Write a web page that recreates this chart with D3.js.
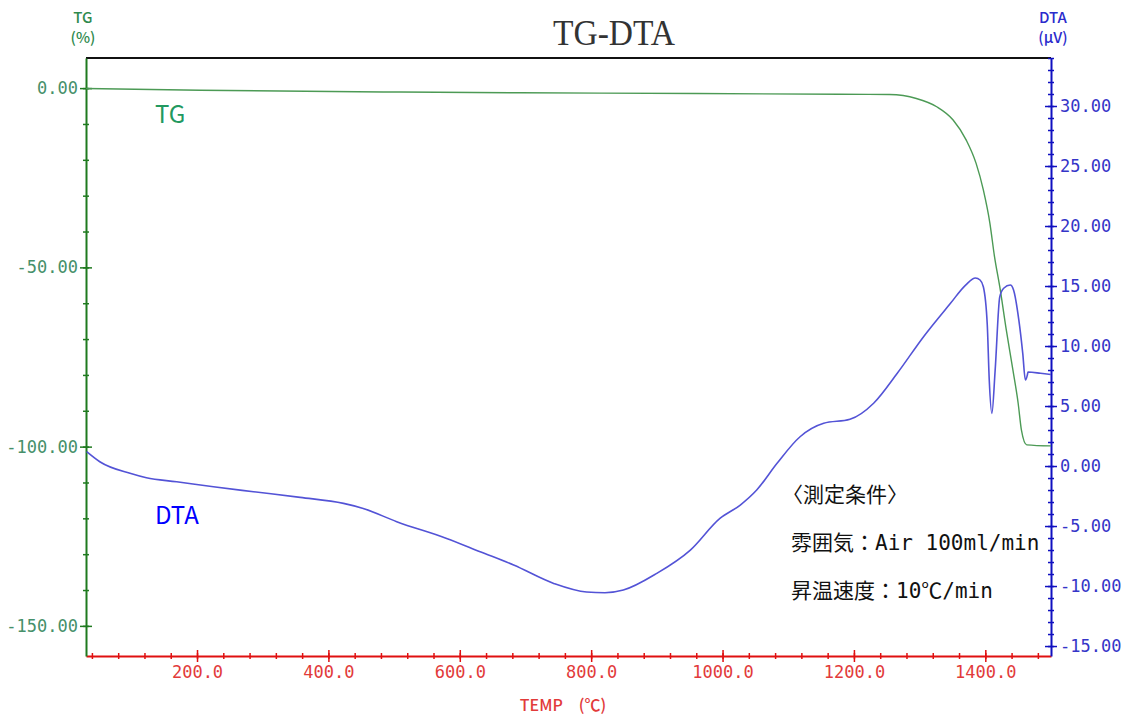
<!DOCTYPE html>
<html>
<head>
<meta charset="utf-8">
<script src="https://cdn.jsdelivr.net/npm/d3@7"></script>
<style>
  body { margin: 0; background: #fff; }
</style>
</head>
<body>
<svg id="chart" width="1126" height="715"></svg>
<script>
// TG-DTA curves, values.

const tgTemp  = [31, 205, 509, 813, 1178, 1254, 1295, 1326, 1351, 1371, 1386, 1397, 1407, 1414, 1422, 1432, 1442, 1450, 1455, 1463, 1500];
const tgValue = [-0.1, -0.6, -1.1, -1.4, -1.7, -1.8, -2.9, -5.2, -8.9, -14.5, -21.0, -28.4, -37.7, -47.0, -55.4, -67.5, -78.6, -87.9, -95.4, -99.5, -99.8];

const dtaTemp  = [32, 52, 98, 123, 169, 225, 286, 357, 423, 453, 504, 580, 631, 682, 743, 793, 821, 849, 900, 951, 996, 1027, 1052, 1083, 1118, 1154, 1194, 1230, 1266, 1306, 1347, 1370, 1385, 1392, 1397, 1403, 1406, 1410, 1415, 1422, 1428, 1438, 1443, 1451, 1457, 1461, 1464, 1465, 1484, 1500];
const dtaValue = [1.2, 0.36, -0.61, -0.98, -1.31, -1.73, -2.14, -2.61, -3.11, -3.53, -4.64, -6.03, -7.14, -8.25, -9.78, -10.5, -10.56, -10.33, -8.94, -7.0, -4.36, -3.25, -2.0, 0.23, 2.44, 3.56, 3.89, 5.23, 7.73, 10.78, 13.56, 15.08, 15.67, 15.5, 14.94, 11.75, 7.17, 4.39, 8.0, 14.1, 14.81, 15.08, 14.67, 12.17, 9.39, 7.17, 7.58, 7.83, 7.73, 7.62];

const xTicks   = [200, 400, 600, 800, 1000, 1200, 1400];
const tgTicks  = [0, -50, -100, -150];
const dtaTicks = [30, 25, 20, 15, 10, 5, 0, -5, -10, -15];

const conditions = ["〈測定条件〉", "雰囲気：Air 100ml/min", "昇温速度：10℃/min"];

const plotLeft = 86, plotRight = 1051, plotTop = 58, plotBottom = 656;
const svg = d3.select("#chart");

const x = d3.scaleLinear().domain([31, 1500]).range([plotLeft, plotRight]);
const yTG = d3.scaleLinear().domain([-158.4, 8.4]).range([plotBottom, plotTop]);
const yDTA = d3.scaleLinear().domain([-15.83, 34]).range([plotBottom, plotTop]);

const mono = "'DejaVu Sans Mono', 'Liberation Mono', monospace";
const jp = "'Noto Sans CJK JP', sans-serif";

// top border
svg.append("line")
  .attr("x1", plotLeft).attr("x2", plotRight).attr("y1", plotTop).attr("y2", plotTop)
  .attr("stroke", "#111").attr("stroke-width", 2);

// makes tick marks cross the axis line
function crossTicks(g, size, vertical) {
  g.selectAll(".tick line")
    .attr(vertical ? "x1" : "y1", -size)
    .attr(vertical ? "x2" : "y2", size);
}

// minor ticks
const minorX = d3.range(40, 1500, 40);
const gxMinor = svg.append("g").attr("transform", `translate(0,${plotBottom})`)
  .call(d3.axisBottom(x).tickValues(minorX).tickFormat(() => "").tickSizeOuter(0));
gxMinor.select(".domain").remove();
crossTicks(gxMinor, 3, false);
gxMinor.selectAll("line").attr("stroke", "#e01010").attr("stroke-width", 1.5);

const gyMinor = svg.append("g").attr("transform", `translate(${plotLeft},0)`)
  .call(d3.axisLeft(yTG).tickValues(d3.range(-150, 9, 10)).tickFormat(() => "").tickSizeOuter(0));
gyMinor.select(".domain").remove();
crossTicks(gyMinor, 3, true);
gyMinor.selectAll("line").attr("stroke", "#1f7a1f").attr("stroke-width", 1.5);

const gdMinor = svg.append("g").attr("transform", `translate(${plotRight},0)`)
  .call(d3.axisRight(yDTA).tickValues(d3.range(-15, 35, 1)).tickFormat(() => "").tickSizeOuter(0));
gdMinor.select(".domain").remove();
crossTicks(gdMinor, 3, true);
gdMinor.selectAll("line").attr("stroke", "#1010c0").attr("stroke-width", 1.5);

// major axes
const gx = svg.append("g").attr("transform", `translate(0,${plotBottom})`)
  .call(d3.axisBottom(x).tickValues(xTicks).tickFormat(d => d.toFixed(1)).tickSizeInner(6).tickSizeOuter(0).tickPadding(4));
crossTicks(gx, 6, false);
gx.select(".domain").attr("stroke", "#e01010").attr("stroke-width", 2);
gx.selectAll(".tick line").attr("stroke", "#e01010").attr("stroke-width", 1.5);
gx.selectAll("text").attr("fill", "#e23a3a").style("font-family", mono).style("font-size", "17px");

const gy = svg.append("g").attr("transform", `translate(${plotLeft},0)`)
  .call(d3.axisLeft(yTG).tickValues(tgTicks).tickFormat(d => d.toFixed(2)).tickSizeInner(6).tickSizeOuter(0).tickPadding(2));
crossTicks(gy, 6, true);
gy.select(".domain").attr("stroke", "#1f7a1f").attr("stroke-width", 2);
gy.selectAll(".tick line").attr("stroke", "#1f7a1f").attr("stroke-width", 1.5);
gy.selectAll("text").attr("fill", "#46906a").style("font-family", mono).style("font-size", "17px");

const gd = svg.append("g").attr("transform", `translate(${plotRight},0)`)
  .call(d3.axisRight(yDTA).tickValues(dtaTicks).tickFormat(d => d.toFixed(2)).tickSizeInner(6).tickSizeOuter(0).tickPadding(3));
crossTicks(gd, 6, true);
gd.select(".domain").attr("stroke", "#1010c0").attr("stroke-width", 2);
gd.selectAll(".tick line").attr("stroke", "#1010c0").attr("stroke-width", 1.5);
gd.selectAll("text").attr("fill", "#3535c8").style("font-family", mono).style("font-size", "17px");

// curves
const tgData = tgTemp.map((t, i) => [t, tgValue[i]]);
const dtaData = dtaTemp.map((t, i) => [t, dtaValue[i]]);

svg.append("path")
  .datum(tgData)
  .attr("fill", "none").attr("stroke", "#4c9a55").attr("stroke-width", 1.4)
  .attr("d", d3.line().x(d => x(d[0])).y(d => yTG(d[1])).curve(d3.curveMonotoneX));

svg.append("path")
  .datum(dtaData)
  .attr("fill", "none").attr("stroke", "#5353d6").attr("stroke-width", 1.6)
  .attr("d", d3.line().x(d => x(d[0])).y(d => yDTA(d[1])).curve(d3.curveMonotoneX));

// title and axis names
svg.append("text")
  .attr("x", 614).attr("y", 45).attr("text-anchor", "middle")
  .attr("textLength", 122).attr("lengthAdjust", "spacingAndGlyphs")
  .style("font-family", "'Liberation Serif', 'DejaVu Serif', serif").style("font-size", "36px")
  .attr("fill", "#333").text("TG-DTA");

const axisName = (xp, lines, color) => {
  lines.forEach((s, i) => {
    svg.append("text")
      .attr("x", xp).attr("y", 23 + i * 20).attr("text-anchor", "middle")
      .style("font-family", jp).style("font-size", "15px").style("font-weight", 500)
      .attr("fill", color).text(s);
  });
};
axisName(83, ["TG", "(%)"], "#2f8a4e");
axisName(1053, ["DTA", "(μV)"], "#2b2bcc");

svg.append("text")
  .attr("x", 563).attr("y", 711).attr("text-anchor", "middle")
  .style("font-family", jp).style("font-size", "16px").style("font-weight", 500)
  .attr("fill", "#e23a3a").text("TEMP　(℃)");

// curve labels
svg.append("text")
  .attr("x", 155).attr("y", 123)
  .style("font-family", jp).style("font-size", "24px")
  .attr("fill", "#229960").text("TG");

svg.append("text")
  .attr("x", 155).attr("y", 524)
  .style("font-family", jp).style("font-size", "24px")
  .attr("fill", "#0000ff").text("DTA");

// measurement conditions
svg.selectAll(".cond")
  .data(conditions)
  .join("text")
  .attr("class", "cond")
  .attr("x", (d, i) => i === 0 ? 782 : 791).attr("y", (d, i) => 502 + i * 48)
  .style("font-family", mono + ", 'Noto Sans CJK JP'").style("font-size", "21px")
  .attr("fill", "#111").text(d => d);
</script>
</body>
</html>
